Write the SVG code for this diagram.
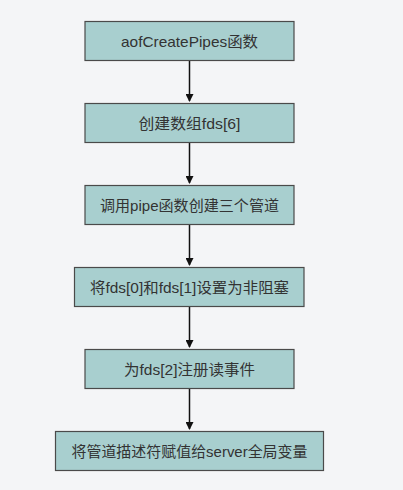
<svg xmlns="http://www.w3.org/2000/svg" width="403" height="490" viewBox="0 0 403 490">
  <style>
    .box { fill: #a8cfcf; stroke: #4a4a4a; stroke-width: 1.2; }
    .label { font-family: "Liberation Sans", "Noto Sans CJK SC", sans-serif; font-size: 15px; fill: #333333; text-anchor: middle; dominant-baseline: central; }
    .edge { stroke: #111111; stroke-width: 1.5; fill: none; marker-end: url(#arrow); }
  </style>
  <defs>
    <marker id="arrow" markerWidth="8" markerHeight="8" refX="7" refY="4" orient="auto" markerUnits="userSpaceOnUse">
      <path d="M0,0 L8,4 L0,8 Z" fill="#111111"/>
    </marker>
  </defs>
  <rect width="403" height="490" fill="#f4f5f7"/>

  <g id="connectors">
    <line class="edge" x1="189.5" y1="61" x2="189.5" y2="101"/>
    <line class="edge" x1="189.5" y1="143" x2="189.5" y2="183"/>
    <line class="edge" x1="189.5" y1="225" x2="189.5" y2="265"/>
    <line class="edge" x1="189.5" y1="307" x2="189.5" y2="347"/>
    <line class="edge" x1="189.5" y1="389" x2="189.5" y2="429"/>
  </g>

  <g id="node-create-pipes">
    <rect class="box" x="85" y="21.5" width="209" height="39"/>
    <text class="label" x="189.5" y="41" textLength="137" lengthAdjust="spacingAndGlyphs">aofCreatePipes函数</text>
  </g>
  <g id="node-fds-array">
    <rect class="box" x="85" y="103.5" width="209" height="39"/>
    <text class="label" x="189.5" y="123" textLength="102" lengthAdjust="spacingAndGlyphs">创建数组fds[6]</text>
  </g>
  <g id="node-pipe-calls">
    <rect class="box" x="85" y="185.5" width="209" height="39"/>
    <text class="label" x="189.5" y="205" textLength="179" lengthAdjust="spacingAndGlyphs">调用pipe函数创建三个管道</text>
  </g>
  <g id="node-nonblock">
    <rect class="box" x="74.5" y="267.5" width="229.5" height="39"/>
    <text class="label" x="189.5" y="287" textLength="199" lengthAdjust="spacingAndGlyphs">将fds[0]和fds[1]设置为非阻塞</text>
  </g>
  <g id="node-read-event">
    <rect class="box" x="85" y="349.5" width="209" height="39"/>
    <text class="label" x="189.5" y="369" textLength="131" lengthAdjust="spacingAndGlyphs">为fds[2]注册读事件</text>
  </g>
  <g id="node-assign-server">
    <rect class="box" x="55.5" y="431.5" width="268" height="39"/>
    <text class="label" x="189.5" y="451" textLength="236" lengthAdjust="spacingAndGlyphs">将管道描述符赋值给server全局变量</text>
  </g>
</svg>
